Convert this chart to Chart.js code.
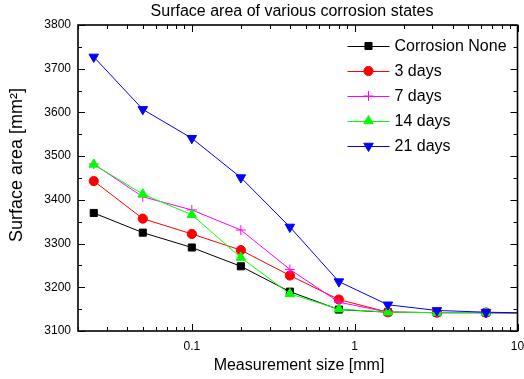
<!DOCTYPE html>
<html>
<head>
<meta charset="utf-8">
<script src="https://cdn.jsdelivr.net/npm/chart.js@4/dist/chart.umd.min.js"></script>
<style>
html,body{margin:0;padding:0;background:#fff;}
#wrap{width:524px;height:379px;}
</style>
</head>
<body>
<div id="wrap"><canvas id="c" width="524" height="379"></canvas></div>
<script>
// ---- data ----
const sizes = [0.025, 0.05, 0.1, 0.2, 0.4, 0.8, 1.6, 3.2, 6.4, 12.8];
const seriesNames = ['Corrosion None', '3 days', '7 days', '14 days', '21 days'];
const corrosionNone = [3370, 3325, 3291, 3248, 3190, 3149, 3143, 3142, 3142, 3141];
const days3  = [3443, 3357, 3322, 3285, 3227, 3172, 3143, 3142, 3142, 3141];
const days7  = [3482, 3407, 3377, 3331, 3241, 3166, 3143, 3142, 3142, 3141];
const days14 = [3481, 3413, 3366, 3268, 3185, 3150, 3143, 3142, 3142, 3141];
const days21 = [3727, 3607, 3541, 3451, 3338, 3213, 3160, 3147, 3143, 3141];
const yTicks = [3100, 3200, 3300, 3400, 3500, 3600, 3700, 3800];
const xTickLabels = [0.1, 1, 10];
const xMinor = [0.02,0.03,0.04,0.05,0.06,0.07,0.08,0.09,0.2,0.3,0.4,0.5,0.6,0.7,0.8,0.9,2,3,4,5,6,7,8,9];

const titleText = 'Surface area of various corrosion states';
const xTitle = 'Measurement size [mm]';
const yTitle = 'Surface area [mm\u00B2]';

const FONT = '"Liberation Sans", Arial, sans-serif';
const values = [corrosionNone, days3, days7, days14, days21];
const colors = ['#000000', '#ff0000', '#ff00ff', '#00ff00', '#0000ff'];
const styles = [
  {pointStyle:'rect', radius:5, rotation:0},
  {pointStyle:'circle', radius:4.6, rotation:0},
  {pointStyle:'cross', radius:5, rotation:0},
  {pointStyle:'triangle', radius:5.5, rotation:0},
  {pointStyle:'triangle', radius:5.5, rotation:180}
];

const datasets = values.map((vals, i) => ({
  label: seriesNames[i],
  data: sizes.map((s, j) => ({x: s, y: vals[j]})),
  borderColor: colors[i],
  backgroundColor: colors[i],
  borderWidth: 1,
  pointStyle: styles[i].pointStyle,
  pointRadius: styles[i].radius,
  pointRotation: styles[i].rotation,
  pointBorderWidth: 1,
  pointBorderColor: colors[i],
  pointBackgroundColor: colors[i],
  order: 10 - i,
  tension: 0
}));

const framePlugin = {
  id: 'frame',
  afterDatasetsDraw(chart) {
    const ctx = chart.ctx;
    const a = chart.chartArea;
    const xs = chart.scales.x, ys = chart.scales.y;
    ctx.save();
    ctx.strokeStyle = '#000';
    ctx.lineWidth = 1;
    ctx.beginPath();
    // y ticks, major every 100, minor every 50
    for (let v = 3100; v <= 3800; v += 50) {
      const y = Math.round(ys.getPixelForValue(v)) + 0.5;
      const len = (v % 100 === 0) ? 7 : 4;
      ctx.moveTo(a.left, y); ctx.lineTo(a.left + len, y);
      ctx.moveTo(a.right, y); ctx.lineTo(a.right - len, y);
    }
    // x ticks
    const drawX = (v, len) => {
      const x = Math.round(xs.getPixelForValue(v)) + 0.5;
      ctx.moveTo(x, a.bottom); ctx.lineTo(x, a.bottom - len);
      ctx.moveTo(x, a.top); ctx.lineTo(x, a.top + len);
    };
    xMinor.forEach(v => drawX(v, 4));
    xTickLabels.forEach(v => drawX(v, 7));
    ctx.stroke();
    ctx.lineWidth = 1.6;
    ctx.strokeRect(a.left, a.top, a.right - a.left, a.bottom - a.top);
    ctx.restore();
  },
  afterDraw(chart) {
    const ctx = chart.ctx;
    const a = chart.chartArea;
    ctx.save();
    ctx.fillStyle = '#000';
    // title
    ctx.font = '16px ' + FONT;
    ctx.textAlign = 'center';
    ctx.textBaseline = 'middle';
    ctx.fillText(titleText, 292, 12);
    // x title
    ctx.fillText(xTitle, 299, 366);
    // y title
    ctx.save();
    ctx.translate(17, 165);
    ctx.rotate(-Math.PI / 2);
    ctx.font = '18px ' + FONT;
    ctx.fillText(yTitle, 0, 0);
    ctx.restore();
    // legend
    const lx0 = a.right - 170, lx1 = a.right - 128, mx = a.right - 149, tx = a.right - 123;
    chart.data.datasets.forEach((ds, i) => {
      const y = a.top + 21 + i * 25;
      ctx.strokeStyle = ds.borderColor;
      ctx.lineWidth = 1;
      ctx.beginPath();
      ctx.moveTo(lx0, y + 0.5); ctx.lineTo(lx1, y + 0.5);
      ctx.stroke();
      ctx.fillStyle = ds.backgroundColor;
      Chart.helpers.drawPoint(ctx, {
        pointStyle: ds.pointStyle, radius: ds.pointRadius,
        rotation: ds.pointRotation, borderWidth: 1
      }, mx, y);
      ctx.fillStyle = '#000';
      ctx.font = '16px ' + FONT;
      ctx.textAlign = 'left';
      ctx.textBaseline = 'middle';
      ctx.fillText(ds.label, tx, y + 1);
    });
    ctx.restore();
  }
};

new Chart(document.getElementById('c'), {
  type: 'line',
  data: { datasets },
  options: {
    responsive: false,
    devicePixelRatio: 1,
    animation: false,
    layout: { padding: { left: 0, right: 4, top: 25, bottom: 0 } },
    plugins: { legend: { display: false }, title: { display: false }, tooltip: { enabled: false } },
    scales: {
      x: {
        type: 'logarithmic',
        min: 0.02, max: 10,
        grid: { display: false, drawTicks: false },
        border: { display: false },
        afterBuildTicks: s => { s.ticks = xTickLabels.map(v => ({ value: v })); },
        afterFit: s => { s.height = 48; s.paddingLeft = 0; s.paddingRight = 0; },
        ticks: {
          autoSkip: false, maxRotation: 0, padding: 8, color: '#000',
          font: { size: 12, family: FONT },
          callback: v => String(v)
        }
      },
      y: {
        min: 3100, max: 3800,
        grid: { display: false, drawTicks: false },
        border: { display: false },
        afterBuildTicks: s => { s.ticks = yTicks.map(v => ({ value: v })); },
        afterFit: s => { s.width = 78; s.paddingTop = 0; s.paddingBottom = 0; },
        ticks: {
          padding: 7, color: '#000',
          font: { size: 12, family: FONT },
          callback: v => String(v)
        }
      }
    }
  },
  plugins: [framePlugin]
});
</script>
</body>
</html>
